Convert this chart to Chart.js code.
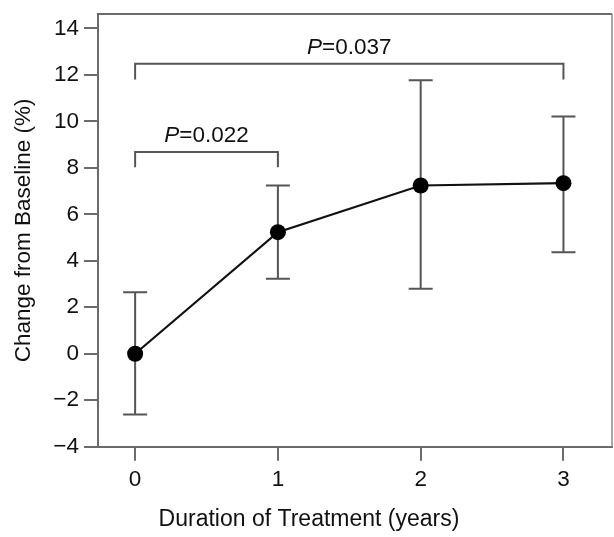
<!DOCTYPE html>
<html><head><meta charset="utf-8">
<script src="https://cdn.jsdelivr.net/npm/chart.js@4"></script>
<style>html,body{margin:0;padding:0;background:#fff}#wrap{width:614px;height:537px;position:relative}</style>
</head><body><div id="wrap"><canvas id="c"></canvas></div>
<script>
const years = [0, 1, 2, 3];
const meanChange = [0, 5.23, 7.24, 7.34];
const errLow = [-2.61, 3.23, 2.80, 4.37];
const errHigh = [2.65, 7.24, 11.77, 10.21];
const yTicks = [-4, -2, 0, 2, 4, 6, 8, 10, 12, 14];
const xTicks = [0, 1, 2, 3];
const bracketFrom = [0, 0];
const bracketTo = [1, 3];
const bracketTop = [8.68, 12.48];
const bracketLeg = [8.03, 11.8];
const bracketP = ['=0.022', '=0.037'];

const FONT = 'Liberation Sans, Arial, Helvetica, sans-serif';
const FS = 22.5;
const AXIS = '#6b6b6b';
const BAR = '#555555';

const errorBars = {
  id: 'errorBars',
  beforeDatasetsDraw(chart) {
    const {ctx, scales: {x, y}} = chart;
    ctx.save();
    ctx.strokeStyle = BAR;
    ctx.lineWidth = 2;
    for (let i = 0; i < years.length; i++) {
      const px = x.getPixelForValue(years[i]);
      const lo = y.getPixelForValue(errLow[i]);
      const hi = y.getPixelForValue(errHigh[i]);
      ctx.beginPath();
      ctx.moveTo(px, lo); ctx.lineTo(px, hi);
      ctx.moveTo(px - 12, lo); ctx.lineTo(px + 12, lo);
      ctx.moveTo(px - 12, hi); ctx.lineTo(px + 12, hi);
      ctx.stroke();
    }
    ctx.restore();
  }
};

const extras = {
  id: 'extras',
  afterDraw(chart) {
    const {ctx, chartArea: a, scales: {x, y}} = chart;
    ctx.save();
    ctx.strokeStyle = AXIS;
    ctx.lineWidth = 2;
    ctx.beginPath();
    ctx.moveTo(a.left, a.top); ctx.lineTo(a.right, a.top);
    ctx.stroke();
    ctx.lineWidth = 1.5;
    ctx.strokeStyle = '#888';
    ctx.beginPath();
    ctx.moveTo(a.right, a.top); ctx.lineTo(a.right, a.bottom);
    ctx.stroke();
    ctx.strokeStyle = BAR;
    ctx.lineWidth = 2;
    for (let i = 0; i < bracketFrom.length; i++) {
      const x1 = x.getPixelForValue(bracketFrom[i]);
      const x2 = x.getPixelForValue(bracketTo[i]);
      const yt = y.getPixelForValue(bracketTop[i]);
      const yl = y.getPixelForValue(bracketLeg[i]);
      ctx.beginPath();
      ctx.moveTo(x1, yl); ctx.lineTo(x1, yt); ctx.lineTo(x2, yt); ctx.lineTo(x2, yl);
      ctx.stroke();
      const fi = 'italic ' + FS + 'px ' + FONT;
      const fn = FS + 'px ' + FONT;
      ctx.font = fi; const w1 = ctx.measureText('P').width;
      ctx.font = fn; const w2 = ctx.measureText(bracketP[i]).width;
      const start = (x1 + x2) / 2 - (w1 + w2) / 2;
      ctx.fillStyle = '#111';
      ctx.textBaseline = 'alphabetic';
      ctx.textAlign = 'left';
      ctx.font = fi; ctx.fillText('P', start, yt - 10);
      ctx.font = fn; ctx.fillText(bracketP[i], start + w1, yt - 10);
    }
    ctx.restore();
  }
};

function noPad(s) { s.paddingLeft = 0; s.paddingRight = 0; s.paddingTop = 0; s.paddingBottom = 0; }

new Chart(document.getElementById('c'), {
  type: 'line',
  data: {
    datasets: [{
      data: years.map((v, i) => ({x: v, y: meanChange[i]})),
      borderColor: '#111',
      backgroundColor: '#000',
      borderWidth: 2.2,
      pointRadius: 8,
      pointBackgroundColor: '#000',
      pointBorderWidth: 0,
      tension: 0
    }]
  },
  options: {
    responsive: true,
    maintainAspectRatio: false,
    animation: false,
    layout: {autoPadding: false, padding: {left: 6, top: 14, right: 2, bottom: 0}},
    plugins: {
      legend: {display: false},
      tooltip: {enabled: false},
      title: {
        display: true, position: 'bottom', fullSize: true, align: 'center',
        text: 'Duration of Treatment (years)', color: '#111',
        font: {family: FONT, size: 23, weight: 'normal'},
        padding: {top: 0, bottom: 4}
      }
    },
    scales: {
      x: {
        type: 'linear', min: -0.26, max: 3.34,
        afterBuildTicks: s => { s.ticks = xTicks.map(v => ({value: v})); },
        afterFit: s => { s.height = 58.7; noPad(s); },
        grid: {drawOnChartArea: false, drawTicks: true, tickLength: 14, color: AXIS, lineWidth: 2},
        border: {display: true, color: AXIS, width: 2},
        ticks: {color: '#111', font: {family: FONT, size: FS}, padding: 6, callback: v => String(v)},
        title: {display: false}
      },
      y: {
        type: 'linear', min: -4, max: 14.62,
        afterBuildTicks: s => { s.ticks = yTicks.map(v => ({value: v})); },
        afterFit: s => { s.width = 92; noPad(s); },
        grid: {drawOnChartArea: false, drawTicks: true, tickLength: 14, color: AXIS, lineWidth: 2},
        border: {display: true, color: AXIS, width: 2},
        ticks: {color: '#111', font: {family: FONT, size: FS}, padding: 5, callback: v => v < 0 ? '\u2212' + Math.abs(v) : String(v)},
        title: {display: true, text: 'Change from Baseline (%)', color: '#111', font: {family: FONT, size: FS}}
      }
    }
  },
  plugins: [errorBars, extras]
});
</script>
</body></html>
